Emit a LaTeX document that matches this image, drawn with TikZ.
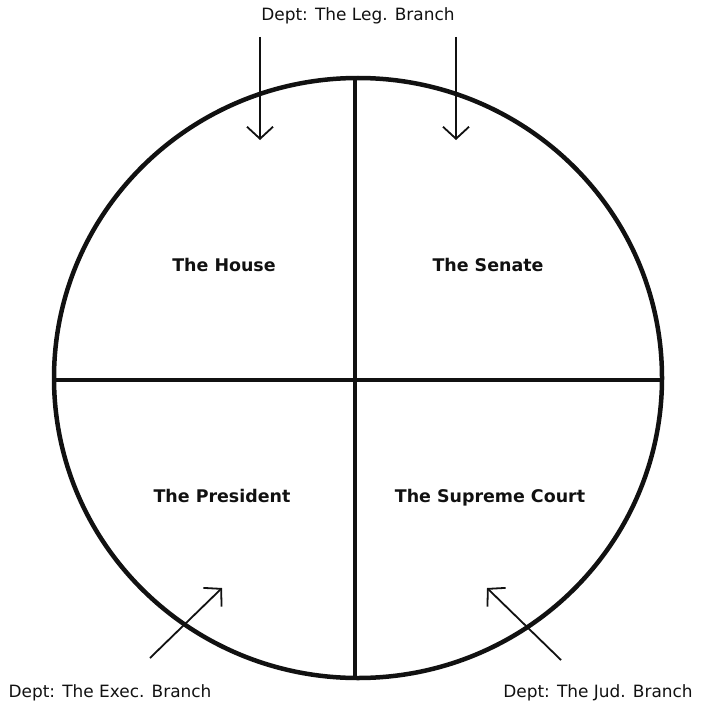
\documentclass[tikz,border=0pt]{standalone}
\usepackage{fontspec}
\setmainfont{DejaVu Sans}
\usepackage{xcolor}
\usetikzlibrary{arrows.meta,positioning}
\definecolor{ink}{HTML}{111111}
\tikzset{
  deptlabel/.style={anchor=base,text=ink,font=\fontsize{17}{20}\selectfont,inner sep=0pt},
  quadlabel/.style={anchor=base,text=ink,font=\bfseries\fontsize{17.5}{20}\selectfont,inner sep=0pt},
  rim/.style={draw=ink,line width=4.5bp},
  divider/.style={draw=ink,line width=4bp},
  pointer/.style={-{Straight Barb[length=12bp,width=26bp,line width=1.8bp]},line width=1.8bp,draw=ink}
}

\begin{document}
\begin{tikzpicture}[x=1bp,y=-1bp]
    \useasboundingbox (0,0) rectangle (701,705);
    % circle split into four
    \draw[rim] (358,378) ellipse [x radius=304,y radius=300];
    \draw[divider] (54,380) -- (662,380);
    \draw[divider] (355,78) -- (355,677);
    \node[quadlabel] (house) at (224,271) {The House};
    \node[quadlabel] (senate) at (488,271) {The Senate};
    \node[quadlabel] (pres) at (222,502) {The President};
    \node[quadlabel] (court) at (490,502) {The Supreme Court};
    % department labels
    \node[deptlabel] (leg) at (358,21) {Dept: The Leg. Branch};
    \node[deptlabel] (exec) at (110,697) {Dept: The Exec. Branch};
    \node[deptlabel] (jud) at (598,697) {Dept: The Jud. Branch};
    \coordinate (legA) at (260,37);   \coordinate (legAtip) at (260,140);
    \coordinate (legB) at (456,37);   \coordinate (legBtip) at (456,140);
    \coordinate (execA) at (150,658); \coordinate (exectip) at (222,588);
    \coordinate (judA) at (561,660);  \coordinate (judtip) at (487,588);
    \draw[pointer] (legA) -- (legAtip);
    \draw[pointer] (legB) -- (legBtip);
    \draw[pointer] (execA) -- (exectip);
    \draw[pointer] (judA) -- (judtip);
  \end{tikzpicture}
\end{document}
